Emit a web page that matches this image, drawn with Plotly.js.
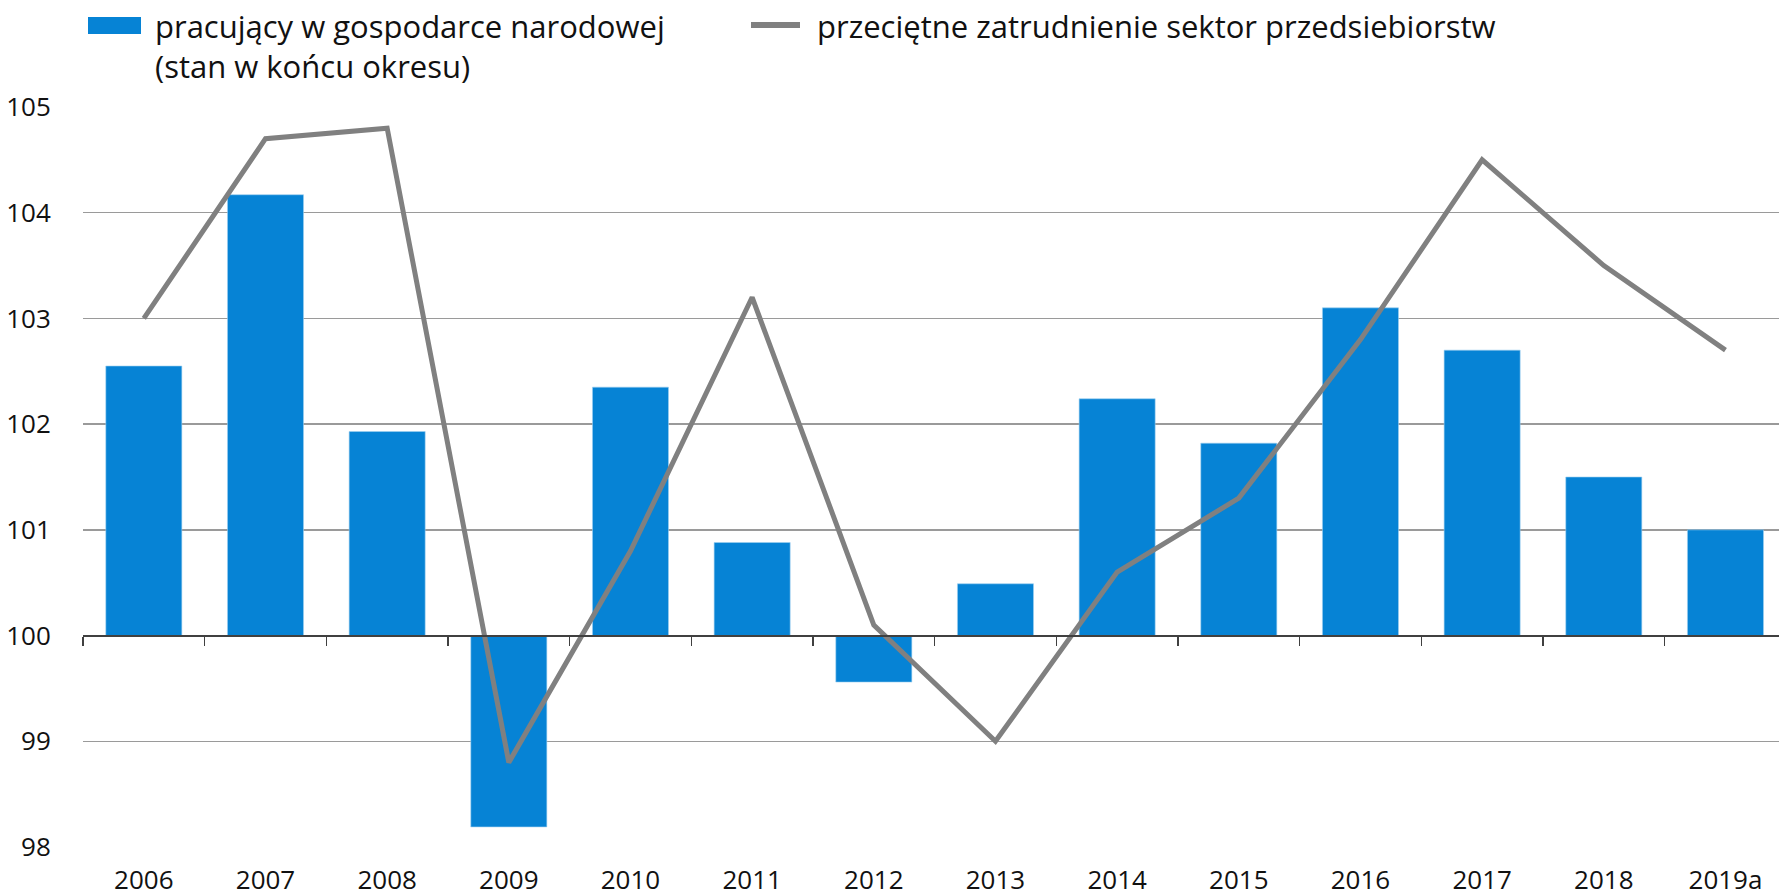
<!DOCTYPE html>
<html>
<head>
<meta charset="utf-8">
<script src="https://cdn.plot.ly/plotly-3.0.1.min.js"></script>
<style>
  html, body { margin: 0; padding: 0; background: #ffffff; }
  #chart { width: 1779px; height: 896px; }
</style>
</head>
<body>
<div id="chart"></div>
<script>
// ---- data ----
const categories = ['2006','2007','2008','2009','2010','2011','2012','2013','2014','2015','2016','2017','2018','2019a'];
const pracujacy = [102.55, 104.17, 101.93, 98.19, 102.35, 100.88, 99.56, 100.49, 102.24, 101.82, 103.10, 102.70, 101.50, 101.00];
const zatrudnienie = [103.0, 104.7, 104.8, 98.8, 100.8, 103.2, 100.1, 99.0, 100.6, 101.3, 102.8, 104.5, 103.5, 102.7];
const seriesNames = ['pracujący w gospodarce narodowej<br>(stan w końcu okresu)', 'przeciętne zatrudnienie sektor przedsiebiorstw'];
const baseLevel = 100;
const yTicks = [98, 99, 100, 101, 102, 103, 104, 105];

// ---- geometry ----
const W = 1779, H = 896;
const M = {l: 83, r: 0, t: 107, b: 49};
const plotW = W - M.l - M.r, plotH = H - M.t - M.b;
const px = x => (x - M.l) / plotW;
const py = y => (H - M.b - y) / plotH;

const FONT = '"Open Sans", "Noto Sans", "DejaVu Sans", sans-serif';
const BLUE = '#0683d5';
const GRAY = '#808080';
const xRange = [-0.5, 13.44];

const traces = [
  {
    type: 'bar',
    x: categories,
    y: pracujacy.map(v => v - baseLevel),
    base: baseLevel,
    name: seriesNames[0],
    marker: {color: BLUE, line: {color: '#9fd0f0', width: 0.6}},
    width: 0.625,
    xaxis: 'x', yaxis: 'y',
    showlegend: false,
    hoverinfo: 'x+text',
    text: pracujacy.map(v => v.toFixed(2)),
    textposition: 'none'
  },
  {
    type: 'scatter',
    mode: 'lines',
    x: categories,
    y: zatrudnienie,
    name: seriesNames[1],
    line: {color: GRAY, width: 5},
    xaxis: 'x2', yaxis: 'y',
    showlegend: false
  }
];

const layout = {
  width: W, height: H,
  margin: M,
  paper_bgcolor: '#ffffff',
  plot_bgcolor: '#ffffff',
  font: {family: FONT, size: 26, color: '#111111'},
  showlegend: false,
  xaxis: {
    type: 'category',
    range: xRange,
    showgrid: false, zeroline: false, showline: false,
    ticks: 'outside', ticklen: 10, tickcolor: 'rgba(0,0,0,0)',
    tickfont: {family: FONT, size: 26, color: '#111111'},
    fixedrange: true
  },
  xaxis2: {
    type: 'category',
    overlaying: 'x',
    anchor: 'free',
    position: (baseLevel - yTicks[0]) / (yTicks[yTicks.length - 1] - yTicks[0]),
    side: 'bottom',
    range: xRange,
    showgrid: false, zeroline: false,
    showline: true, linecolor: '#404040', linewidth: 2,
    ticks: 'outside', tickson: 'boundaries', ticklen: 9, tickwidth: 1.5, tickcolor: '#404040',
    showticklabels: false,
    fixedrange: true
  },
  yaxis: {
    range: [yTicks[0], yTicks[yTicks.length - 1]],
    tickvals: yTicks,
    showgrid: true, gridcolor: '#9a9a9a', gridwidth: 1.3,
    zeroline: false, showline: false,
    ticks: 'outside', ticklen: 26, tickcolor: 'rgba(0,0,0,0)',
    tickfont: {family: FONT, size: 26, color: '#111111'},
    fixedrange: true
  },
  shapes: [
    {type: 'rect', xref: 'paper', yref: 'paper',
     x0: px(88), x1: px(141), y0: py(34), y1: py(17),
     fillcolor: BLUE, line: {width: 0}},
    {type: 'line', xref: 'paper', yref: 'paper',
     x0: px(751), x1: px(800), y0: py(25), y1: py(25),
     line: {color: GRAY, width: 6}}
  ],
  annotations: [
    {xref: 'paper', yref: 'paper', x: px(153), y: py(3), xanchor: 'left', yanchor: 'top',
     align: 'left', showarrow: false, text: seriesNames[0],
     font: {family: FONT, size: 31, color: '#111111'}},
    {xref: 'paper', yref: 'paper', x: px(815), y: py(3), xanchor: 'left', yanchor: 'top',
     align: 'left', showarrow: false, text: seriesNames[1],
     font: {family: FONT, size: 31, color: '#111111'}}
  ]
};

Plotly.newPlot('chart', traces, layout, {displayModeBar: false, staticPlot: true});
</script>
</body>
</html>
